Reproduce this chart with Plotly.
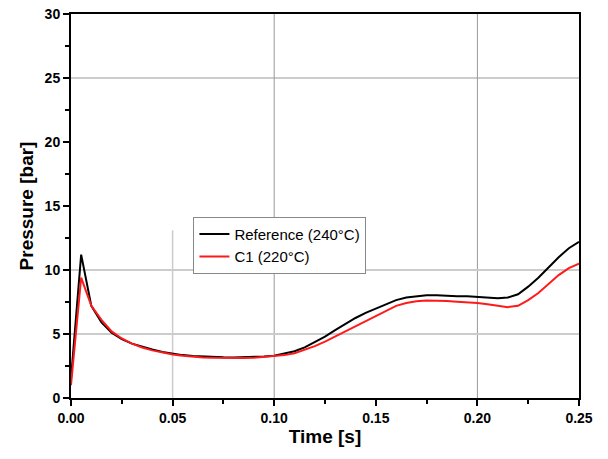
import plotly.graph_objects as go

time_s = [0, 0.005, 0.01, 0.015, 0.02, 0.025, 0.03, 0.035, 0.04, 0.045, 0.05,
          0.055, 0.06, 0.065, 0.07, 0.075, 0.08, 0.085, 0.09, 0.095, 0.10,
          0.105, 0.11, 0.115, 0.12, 0.125, 0.13, 0.135, 0.14, 0.145, 0.15,
          0.155, 0.16, 0.165, 0.17, 0.175, 0.18, 0.185, 0.19, 0.195, 0.20,
          0.205, 0.21, 0.215, 0.22, 0.225, 0.23, 0.235, 0.24, 0.245, 0.25]

reference_240 = [1.5, 11.2, 7.2, 5.9, 5.1, 4.6, 4.25, 4.0, 3.8, 3.6, 3.45,
                 3.35, 3.28, 3.23, 3.2, 3.18, 3.17, 3.18, 3.2, 3.25, 3.3,
                 3.45, 3.65, 3.95, 4.35, 4.8, 5.3, 5.8, 6.25, 6.65, 7.0,
                 7.35, 7.65, 7.85, 7.95, 8.02, 8.03, 7.98, 7.95, 7.95, 7.9,
                 7.82, 7.8, 7.85, 8.1, 8.7, 9.4, 10.2, 11.0, 11.7, 12.2]

c1_220 = [1.0, 9.4, 7.2, 6.1, 5.2, 4.65, 4.25, 3.95, 3.72, 3.55, 3.4,
          3.3, 3.22, 3.17, 3.14, 3.12, 3.12, 3.13, 3.15, 3.2, 3.25,
          3.35, 3.5, 3.75, 4.05, 4.4, 4.8, 5.2, 5.65, 6.05, 6.45,
          6.85, 7.2, 7.42, 7.55, 7.62, 7.62, 7.58, 7.52, 7.48, 7.42,
          7.32, 7.2, 7.1, 7.2, 7.65, 8.2, 8.9, 9.6, 10.15, 10.5]

x_ticks = [0.00, 0.05, 0.10, 0.15, 0.20, 0.25]
y_ticks = [0, 5, 10, 15, 20, 25, 30]

fig = go.Figure()
fig.add_trace(go.Scatter(x=time_s, y=reference_240, mode="lines",
                         name="Reference (240°C)",
                         line=dict(color="#000000", width=2)))
fig.add_trace(go.Scatter(x=time_s, y=c1_220, mode="lines",
                         name="C1 (220°C)",
                         line=dict(color="#ff1a1a", width=2)))

# grid lines (drawn as shapes to mimic the reference's partial grid)
grid = [
    (0.10, 0, 0.10, 30, "#999999", 1),
    (0.20, 0, 0.20, 30, "#999999", 1),
    (0.05, 0, 0.05, 13.1, "#cccccc", 1.5),
    (0, 25, 0.25, 25, "#999999", 1),
    (0, 10, 0.25, 10, "#cccccc", 2),
    (0, 5, 0.25, 5, "#cccccc", 2),
]
for x0, y0, x1, y1, c, w in grid:
    fig.add_shape(type="line", x0=x0, y0=y0, x1=x1, y1=y1, xref="x", yref="y",
                  line=dict(color=c, width=w), layer="below")

font_family = "Liberation Sans, Arial, sans-serif"

fig.update_layout(
    width=608, height=459,
    margin=dict(l=71, r=29, t=14, b=61, autoexpand=False),
    paper_bgcolor="white", plot_bgcolor="white",
    font=dict(family=font_family, color="black"),
    showlegend=True,
    legend=dict(x=0.241, y=0.472, xanchor="left", yanchor="top",
                bgcolor="white", bordercolor="#888888", borderwidth=1,
                font=dict(size=15, family=font_family, color="black"),
                tracegroupgap=0, itemwidth=30),
)
fig.update_xaxes(
    range=[0, 0.25], tickvals=x_ticks, ticktext=[f"{v:.2f}" for v in x_ticks],
    showgrid=False, zeroline=False, automargin=False,
    showline=True, linecolor="black", linewidth=2, mirror=True,
    ticks="outside", ticklen=6, tickwidth=2, tickcolor="black",
    minor=dict(dtick=0.025, ticks="outside", ticklen=4, tickwidth=2,
               tickcolor="black", showgrid=False),
    tickfont=dict(size=14, weight="bold", family=font_family),
    title=dict(text="Time [s]", font=dict(size=19, weight="bold", family=font_family),
               standoff=5),
)
fig.update_yaxes(
    range=[0, 30], tickvals=y_ticks,
    showgrid=False, zeroline=False, automargin=False,
    showline=True, linecolor="black", linewidth=2, mirror=True,
    ticks="outside", ticklen=6, tickwidth=2, tickcolor="black",
    minor=dict(dtick=2.5, ticks="outside", ticklen=4, tickwidth=2,
               tickcolor="black", showgrid=False),
    tickfont=dict(size=14, weight="bold", family=font_family),
    title=dict(text="Pressure [bar]", font=dict(size=19, weight="bold", family=font_family),
               standoff=6),
)

fig.write_html("out.html", config={"displayModeBar": False},
               post_script="document.body.style.margin='0';")
